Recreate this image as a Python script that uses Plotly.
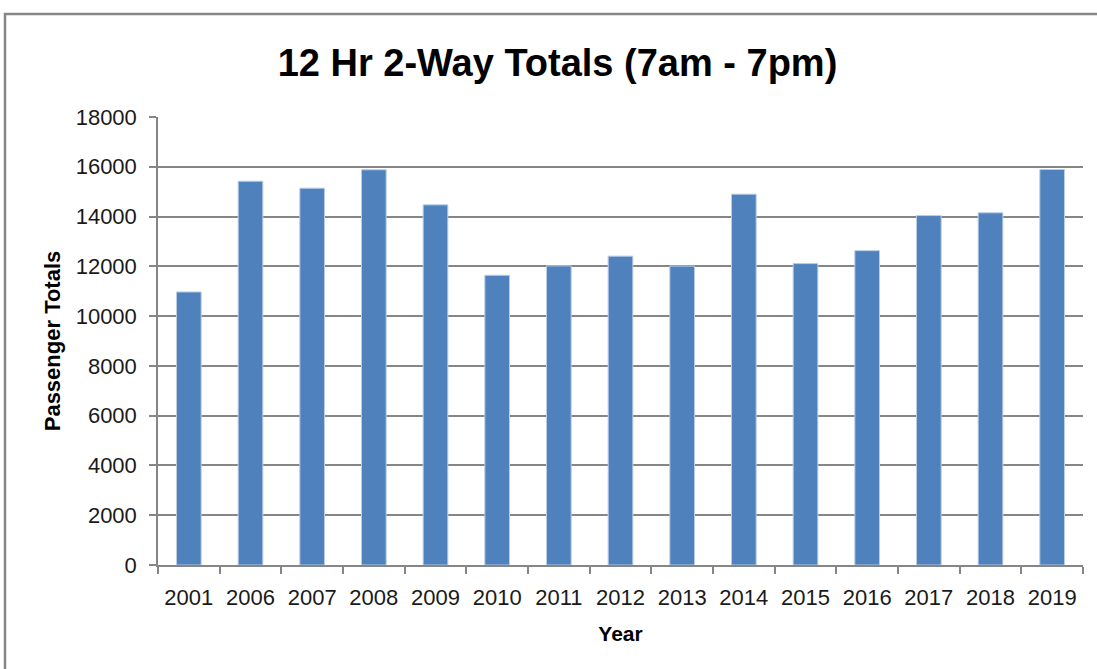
import plotly.graph_objects as go

years = ["2001", "2006", "2007", "2008", "2009", "2010", "2011", "2012",
         "2013", "2014", "2015", "2016", "2017", "2018", "2019"]
totals = [10970, 15420, 15140, 15880, 14470, 11640, 12020, 12410,
          12010, 14900, 12110, 12630, 14040, 14150, 15890]
y_ticks = [0, 2000, 4000, 6000, 8000, 10000, 12000, 14000, 16000, 18000]

FONT = "Liberation Sans, Arial, sans-serif"

fig = go.Figure(go.Bar(
    x=years, y=totals,
    marker=dict(color="#4F81BD", line=dict(color="#B9CDE5", width=1)),
))

W, H = 1097, 669
L, R, T, B = 158, 14, 117, 104
pw, ph = W - L - R, H - T - B

fig.update_layout(
    width=W, height=H,
    margin=dict(l=L, r=R, t=T, b=B),
    paper_bgcolor="white", plot_bgcolor="white",
    bargap=0.6,
    showlegend=False,
    font=dict(family=FONT, color="#000000", size=22),
    title=dict(text="<b>12 Hr 2-Way Totals (7am - 7pm)</b>",
               x=557.5 / W, xanchor="center",
               y=1 - 63 / H, yanchor="middle",
               font=dict(family=FONT, size=38, color="#000000")),
    xaxis=dict(
        type="category",
        showgrid=False,
        showline=True, linecolor="#868686", linewidth=1.5,
        ticks="outside", tickson="boundaries", ticklen=7, tickcolor="#868686", tickwidth=1.5,
        ticklabelstandoff=12,
        tickfont=dict(size=22, color="#1a1a1a"),
        title=dict(text="<b>Year</b>", font=dict(size=21), standoff=17),
    ),
    yaxis=dict(
        range=[0, 18000],
        tickvals=y_ticks,
        tickformat="d",
        showgrid=True, gridcolor="#868686", gridwidth=1.5,
        showline=True, linecolor="#868686", linewidth=1.5,
        ticks="outside", ticklen=7, tickcolor="#868686", tickwidth=1.5,
        ticklabelstandoff=8,
        tickfont=dict(size=22, color="#1a1a1a"),
        zeroline=False,
        title=dict(text="<b>Passenger Totals</b>", font=dict(size=22), standoff=9),
    ),
    shapes=[dict(
        type="rect", xref="paper", yref="paper",
        x0=(5 - L) / pw, x1=(1100 - L) / pw,
        y0=(H - B - 675) / ph, y1=(H - B - 14) / ph,
        line=dict(color="#868686", width=2.5), fillcolor="rgba(0,0,0,0)",
        layer="below",
    )],
)

fig.write_html("out.html", config={"displayModeBar": False},
               post_script="document.body.style.margin='0px';")
